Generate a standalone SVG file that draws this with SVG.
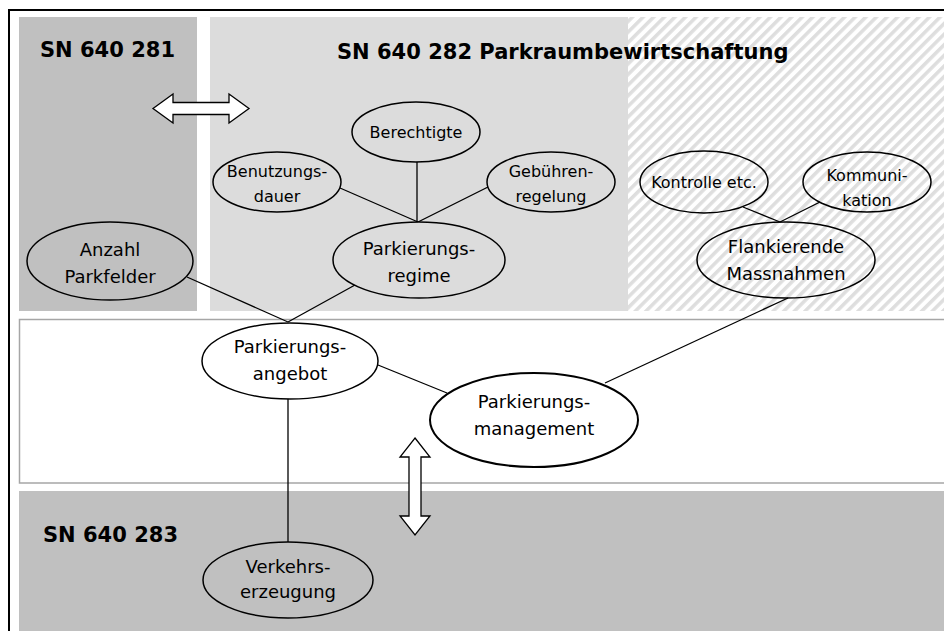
<svg xmlns="http://www.w3.org/2000/svg" width="944" height="631" viewBox="0 0 944 631">
<style>
text{font-family:"DejaVu Sans",Verdana,sans-serif;fill:#000;text-anchor:middle}
.t{font-size:21px;font-weight:bold;text-anchor:start}
.m{font-size:18px}
.s{font-size:16px}
.e{stroke:#000;stroke-width:1.5}
.c line{stroke:#000;stroke-width:1.3}
.arr{fill:#fff;stroke:#000;stroke-width:1.3;stroke-linejoin:miter}
</style>
<defs>
<pattern id="hatch" width="7.5" height="7.5" patternUnits="userSpaceOnUse" patternTransform="rotate(45)">
<rect width="7.5" height="7.5" fill="#fff"/>
<rect width="3.5" height="7.5" fill="#dedede"/>
</pattern>
</defs>
<rect width="944" height="631" fill="#fff"/>
<g id="panels">
<rect x="19" y="17" width="178" height="294" fill="#c0c0c0"/>
<rect x="210" y="17" width="418" height="294" fill="#dcdcdc"/>
<rect x="628" y="17" width="330" height="294" fill="url(#hatch)"/>
<rect x="19.5" y="319.5" width="940" height="163.5" fill="#fff" stroke="#a6a6a6" stroke-width="1.5"/>
<rect x="19" y="491" width="940" height="150" fill="#c0c0c0"/>
<rect x="9" y="10" width="960" height="640" fill="none" stroke="#000" stroke-width="2"/>
</g>
<g id="titles">
<text class="t" x="40" y="57">SN 640 281</text>
<text class="t" x="337" y="59">SN 640 282 Parkraumbewirtschaftung</text>
<text class="t" x="43" y="542">SN 640 283</text>
</g>
<g id="arrows">
<polygon class="arr" points="153,108.5 173,94 173,102.5 229,102.5 229,94 249,108.5 229,123 229,114.5 173,114.5 173,123"/>
<polygon class="arr" points="415,438 430,457 421,457 421,516 430,516 415,535 400,516 409,516 409,457 400,457"/>
</g>
<g class="c" id="connectors">
<line x1="187" y1="277" x2="288" y2="322"/>
<line x1="355" y1="285" x2="288" y2="322"/>
<line x1="340" y1="188" x2="418" y2="222"/>
<line x1="417" y1="162" x2="417" y2="222"/>
<line x1="488" y1="187" x2="418" y2="222"/>
<line x1="743" y1="207" x2="780" y2="222"/>
<line x1="820" y1="202" x2="780" y2="222"/>
<line x1="788" y1="298" x2="605" y2="383"/>
<line x1="378" y1="365" x2="447" y2="393"/>
<line x1="288" y1="399" x2="288" y2="542"/>
</g>
<g id="anzahl">
<ellipse class="e" cx="110" cy="261" rx="83" ry="39" fill="#c0c0c0"/>
<text class="m" x="110" y="256">Anzahl</text>
<text class="m" x="110" y="283">Parkfelder</text>
</g>
<g id="berechtigte">
<ellipse class="e" cx="416" cy="132" rx="64" ry="30" fill="#dcdcdc"/>
<text class="s" x="416" y="138">Berechtigte</text>
</g>
<g id="benutzungsdauer">
<ellipse class="e" cx="277" cy="182" rx="64" ry="30" fill="#dcdcdc"/>
<text class="s" x="277" y="177">Benutzungs-</text>
<text class="s" x="277" y="202">dauer</text>
</g>
<g id="gebuehren">
<ellipse class="e" cx="551" cy="182" rx="64" ry="30" fill="#dcdcdc"/>
<text class="s" x="551" y="177">Gebühren-</text>
<text class="s" x="551" y="202">regelung</text>
</g>
<g id="regime">
<ellipse class="e" cx="419" cy="260" rx="86" ry="38" fill="#dcdcdc"/>
<text class="m" x="419" y="255">Parkierungs-</text>
<text class="m" x="419" y="282">regime</text>
</g>
<g id="kontrolle">
<ellipse class="e" cx="704" cy="182" rx="64" ry="31" fill="none"/>
<text class="s" x="704" y="188">Kontrolle etc.</text>
</g>
<g id="kommunikation">
<ellipse class="e" cx="867" cy="182" rx="64" ry="30" fill="none"/>
<text class="s" x="867" y="181">Kommuni-</text>
<text class="s" x="867" y="206">kation</text>
</g>
<g id="flankierende">
<ellipse class="e" cx="786" cy="260" rx="89" ry="38" fill="none"/>
<text class="m" x="786" y="253">Flankierende</text>
<text class="m" x="786" y="280">Massnahmen</text>
</g>
<g id="angebot">
<ellipse class="e" cx="290" cy="361" rx="88" ry="38" fill="#fff"/>
<text class="m" x="290" y="353">Parkierungs-</text>
<text class="m" x="290" y="380">angebot</text>
</g>
<g id="management">
<ellipse cx="534" cy="420" rx="104" ry="47" fill="#fff" stroke="#000" stroke-width="2"/>
<text class="m" x="534" y="408">Parkierungs-</text>
<text class="m" x="534" y="435">management</text>
</g>
<g id="verkehrserzeugung">
<ellipse class="e" cx="288" cy="580" rx="85" ry="38" fill="#c0c0c0"/>
<text class="m" x="288" y="573">Verkehrs-</text>
<text class="m" x="288" y="598">erzeugung</text>
</g>
</svg>
